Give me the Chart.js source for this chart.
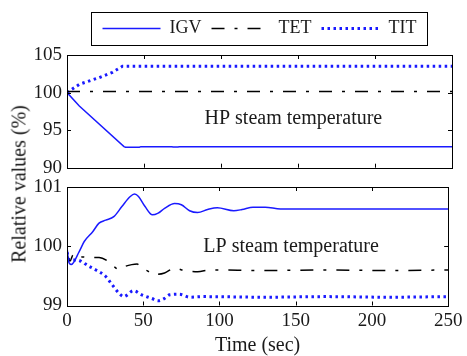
<!DOCTYPE html>
<html><head><meta charset="utf-8">
<script src="https://cdn.jsdelivr.net/npm/chart.js@4/dist/chart.umd.min.js"></script>
<style>
html,body{margin:0;padding:0;background:#fff;}
#wrap{position:relative;width:467px;height:356px;overflow:hidden;background:#fff;}
#c1{position:absolute;left:0;top:0;}
#c2{position:absolute;left:0;top:170px;}
#ytitle{position:absolute;left:19px;top:184px;transform:translate(-50%,-50%) rotate(-90deg);font:20px "Liberation Serif",serif;color:#1a1a1a;white-space:nowrap;}
</style></head><body>
<div id="wrap">
<canvas id="c1" width="467" height="185"></canvas>
<canvas id="c2" width="467" height="186"></canvas>
<div id="ytitle">Relative values (%)</div>
</div>
<script>
// ---- data ----
const seriesNames = ['IGV', 'TET', 'TIT'];
const xTicks = [0, 50, 100, 150, 200, 250];
const hpYTicks = [90, 95, 100, 105];
const lpYTicks = [99, 100, 101];

// HP steam temperature (top panel)
const hpIgvT = [0, 8, 37, 38, 47, 48, 68, 69, 72, 73, 250];
const hpIgvV = [100, 98.2, 92.8, 92.72, 92.72, 92.8, 92.8, 92.75, 92.75, 92.8, 92.8];
const hpTetT = [0, 250];
const hpTetV = [100.15, 100.15];
const hpTitT = [0, 8, 21, 29.5, 36, 250];
const hpTitV = [100, 101.1, 102.0, 102.7, 103.5, 103.5];

// LP steam temperature (bottom panel)
const lpIgvT = [0, 1, 2.7, 8, 11.3, 17, 21, 25.4, 30.7, 36, 41.5, 44.3, 46.9, 51.2, 56, 59.8, 64, 70.6, 75, 80.4, 85.7, 92.2, 98.6, 109.4, 114.8, 122, 130, 140, 250];
const lpIgvV = [100, 99.75, 99.69, 99.91, 100.08, 100.25, 100.39, 100.44, 100.5, 100.67, 100.84, 100.88, 100.84, 100.67, 100.53, 100.56, 100.64, 100.72, 100.7, 100.6, 100.57, 100.62, 100.65, 100.6, 100.62, 100.66, 100.66, 100.63, 100.63];
const lpTetT = [0, 2, 4, 6, 10, 15, 21, 27.5, 34, 38, 42.5, 46, 49, 53, 56.6, 64, 70.6, 77, 85.7, 94, 130, 170, 210, 250];
const lpTetV = [99.85, 99.75, 99.85, 99.8, 99.82, 99.81, 99.81, 99.74, 99.61, 99.66, 99.69, 99.7, 99.63, 99.58, 99.52, 99.55, 99.63, 99.59, 99.57, 99.6, 99.59, 99.6, 99.59, 99.6];
const lpTitT = [0, 1.6, 6, 14.6, 18.9, 25.4, 29.6, 34, 37.2, 43.7, 49, 55.5, 59.8, 64, 67.3, 73.8, 80.4, 89, 130, 170, 210, 250];
const lpTitV = [99.9, 99.77, 99.77, 99.66, 99.6, 99.49, 99.35, 99.21, 99.15, 99.25, 99.18, 99.12, 99.08, 99.12, 99.18, 99.19, 99.14, 99.15, 99.14, 99.15, 99.14, 99.15];

const BLUE = '#1a1aff';
const INK = '#1a1a1a';
const FONT = '"Liberation Serif", serif';

function pts(ts, vs) { return ts.map((t, i) => ({x: t, y: vs[i]})); }

function datasets(igvT, igvV, tetT, tetV, titT, titV, smooth) {
  const mode = smooth ? 'monotone' : 'default';
  return [
    {label: seriesNames[0], data: pts(igvT, igvV), borderColor: BLUE, backgroundColor: BLUE, borderWidth: 1.5, pointRadius: 0, cubicInterpolationMode: mode, tension: 0},
    {label: seriesNames[1], data: pts(tetT, tetV), borderColor: '#000', backgroundColor: '#000', borderWidth: 1.5, borderDash: [13, 10, 3, 10], pointRadius: 0, cubicInterpolationMode: mode, tension: 0},
    {label: seriesNames[2], data: pts(titT, titV), borderColor: BLUE, backgroundColor: BLUE, borderWidth: 3, borderDash: [2.5, 3.5], pointRadius: 0, cubicInterpolationMode: mode, tension: 0}
  ];
}

// frame + inward ticks + annotation text
const framePlugin = {
  id: 'frame',
  afterDatasetsDraw(chart, args, opts) {
    const {ctx, chartArea: a, scales} = chart;
    const xs = scales.x, ys = scales.y;
    ctx.save();
    ctx.strokeStyle = '#000';
    ctx.lineWidth = 1;
    const L = 4;
    ctx.beginPath();
    xTicks.forEach(v => {
      const p = Math.round(xs.getPixelForValue(v)) + 0.5;
      ctx.moveTo(p, a.bottom); ctx.lineTo(p, a.bottom - L);
      ctx.moveTo(p, a.top); ctx.lineTo(p, a.top + L);
    });
    opts.yTicks.forEach(v => {
      const p = Math.round(ys.getPixelForValue(v)) + 0.5;
      ctx.moveTo(a.left, p); ctx.lineTo(a.left + L, p);
      ctx.moveTo(a.right, p); ctx.lineTo(a.right - L, p);
    });
    ctx.stroke();
    ctx.strokeRect(Math.round(a.left) + 0.5, Math.round(a.top) + 0.5, Math.round(a.right - a.left), Math.round(a.bottom - a.top));
    // annotation
    ctx.fillStyle = INK;
    ctx.font = '20px ' + FONT;
    ctx.textAlign = 'center';
    ctx.textBaseline = 'middle';
    ctx.fillText(opts.note, xs.getPixelForValue(opts.noteX), ys.getPixelForValue(opts.noteY));
    ctx.restore();
  },
  afterDraw(chart, args, opts) {
    if (!opts.legendBox) return;
    const hb = chart.legend.legendHitBoxes;
    if (!hb || !hb.length) return;
    const last = hb[hb.length - 1];
    const l = hb[0].left - 12, r = last.left + last.width + 10;
    const t = hb[0].top - 7.5, b = hb[0].top + hb[0].height + 7.5;
    const ctx = chart.ctx;
    ctx.save();
    ctx.strokeStyle = '#000';
    ctx.lineWidth = 1;
    ctx.strokeRect(Math.round(l) + 0.5, Math.round(t) + 0.5, Math.round(r - l), Math.round(b - t));
    ctx.restore();
  }
};

function yScale(min, max, ticks) {
  return {
    type: 'linear', min: min, max: max,
    afterFit: s => { s.width = 67; },
    afterBuildTicks: s => { s.ticks = ticks.map(v => ({value: v})); },
    grid: {display: false, drawTicks: false},
    border: {display: false},
    ticks: {color: INK, font: {family: FONT, size: 19}, padding: 5}
  };
}

Chart.defaults.animation = false;

new Chart(document.getElementById('c1'), {
  type: 'line',
  data: {datasets: datasets(hpIgvT, hpIgvV, hpTetT, hpTetV, hpTitT, hpTitV, false)},
  plugins: [framePlugin],
  options: {
    responsive: false,
    animation: false,
    layout: {padding: {left: 0, right: 15, top: 9.5, bottom: 17.3}},
    scales: {
      x: {type: 'linear', position: 'top', min: 0, max: 250,
          afterFit: s => { s.height = 7.5; },
          grid: {display: false, drawTicks: false}, border: {display: false},
          ticks: {display: false}},
      y: yScale(90, 105, hpYTicks)
    },
    plugins: {
      legend: {
        display: true, position: 'top', fullSize: false,
        labels: {usePointStyle: true, pointStyle: 'line', pointStyleWidth: 58, padding: 10,
                 color: INK, font: {family: FONT, size: 18},
                 generateLabels: chart => {
                   const items = Chart.defaults.plugins.legend.labels.generateLabels(chart);
                   items.forEach(it => {
                     const ds = chart.data.datasets[it.datasetIndex];
                     it.lineDash = ds.borderDash || [];
                     it.lineWidth = ds.borderWidth;
                     it.strokeStyle = ds.borderColor;
                     it.pointStyle = 'line';
                   });
                   return items;
                 }}
      },
      tooltip: {enabled: false},
      frame: {yTicks: hpYTicks, note: 'HP steam temperature', noteX: 147, noteY: 96.5, legendBox: true}
    }
  }
});

new Chart(document.getElementById('c2'), {
  type: 'line',
  data: {datasets: datasets(lpIgvT, lpIgvV, lpTetT, lpTetV, lpTitT, lpTitV, true)},
  plugins: [framePlugin],
  options: {
    responsive: false,
    animation: false,
    layout: {padding: {left: 0, right: 15, top: 17, bottom: 0}},
    scales: {
      x: {type: 'linear', position: 'bottom', min: 0, max: 250,
          afterFit: s => { s.height = 50.5; },
          afterBuildTicks: s => { s.ticks = xTicks.map(v => ({value: v})); },
          grid: {display: false, drawTicks: false}, border: {display: false},
          ticks: {color: INK, font: {family: FONT, size: 19}, padding: 4.6, maxRotation: 0},
          title: {display: true, text: 'Time (sec)', color: INK, font: {family: FONT, size: 20, lineHeight: 1.0}, padding: {top: 0, bottom: 0}}},
      y: yScale(99, 101, lpYTicks)
    },
    plugins: {
      legend: {display: false},
      tooltip: {enabled: false},
      frame: {yTicks: lpYTicks, note: 'LP steam temperature', noteX: 147, noteY: 100.0, legendBox: false}
    }
  }
});
</script>
</body></html>
